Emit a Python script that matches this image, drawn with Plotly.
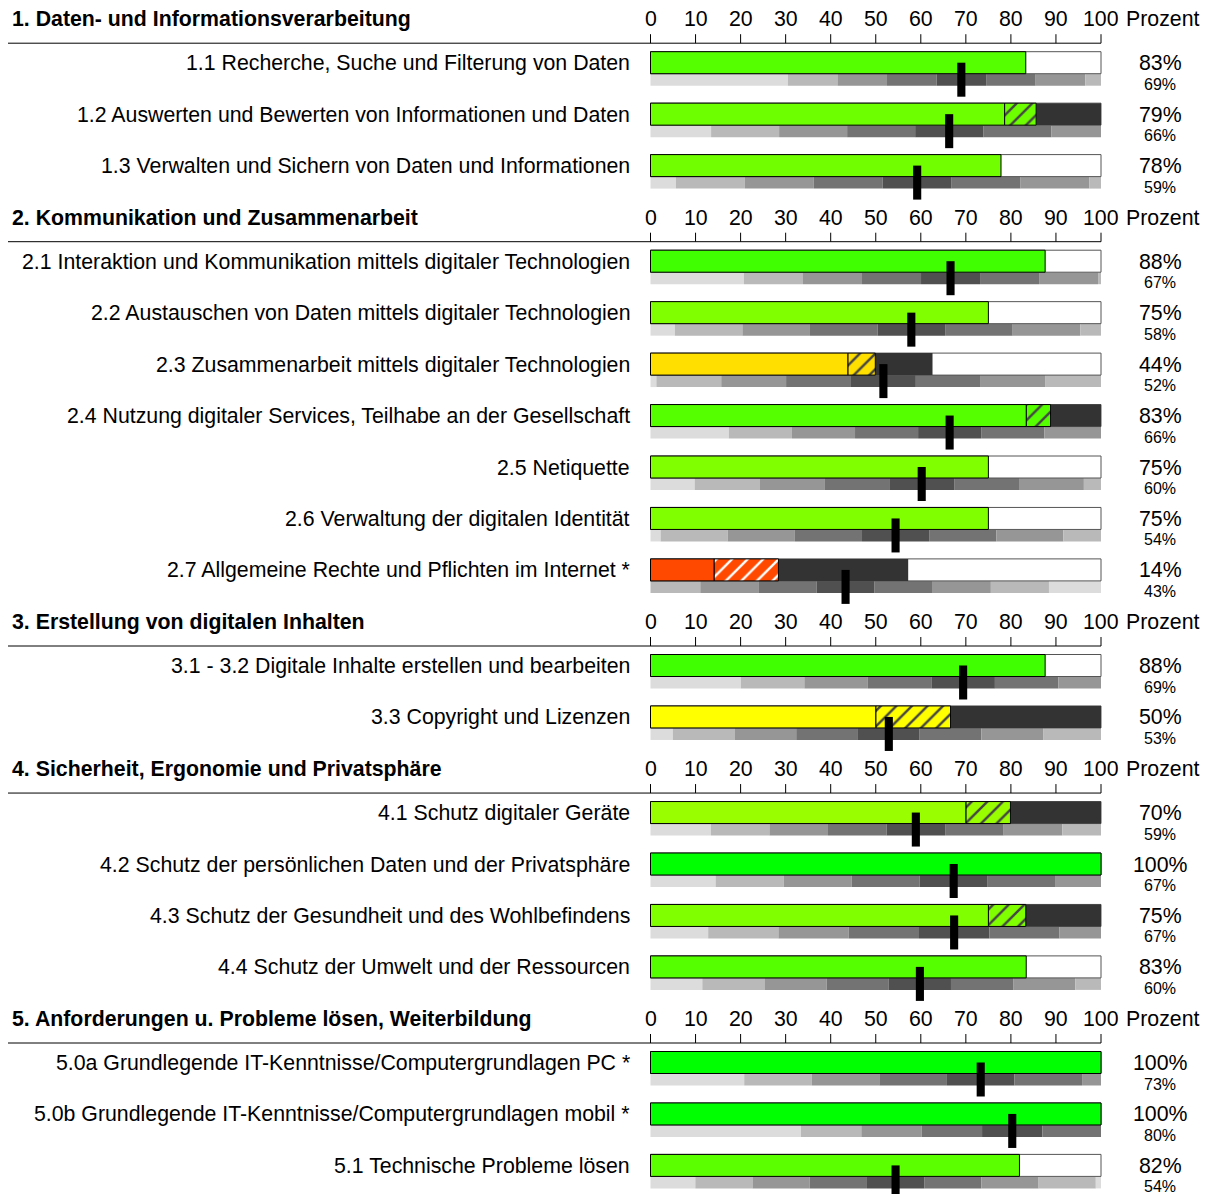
import plotly.graph_objects as go

# ---------------------------------------------------------------- data
section_titles = [
    "1. Daten- und Informationsverarbeitung",
    "2. Kommunikation und Zusammenarbeit",
    "3. Erstellung von digitalen Inhalten",
    "4. Sicherheit, Ergonomie und Privatsphäre",
    "5. Anforderungen u. Probleme lösen, Weiterbildung",
]

row_labels = [
    "1.1 Recherche, Suche und Filterung von Daten",
    "1.2 Auswerten und Bewerten von Informationen und Daten",
    "1.3 Verwalten und Sichern von Daten und Informationen",
    "2.1 Interaktion und Kommunikation mittels digitaler Technologien",
    "2.2 Austauschen von Daten mittels digitaler Technologien",
    "2.3 Zusammenarbeit mittels digitaler Technologien",
    "2.4 Nutzung digitaler Services, Teilhabe an der Gesellschaft",
    "2.5 Netiquette",
    "2.6 Verwaltung der digitalen Identität",
    "2.7 Allgemeine Rechte und Pflichten im Internet *",
    "3.1 - 3.2 Digitale Inhalte erstellen und bearbeiten",
    "3.3 Copyright und Lizenzen",
    "4.1 Schutz digitaler Geräte",
    "4.2 Schutz der persönlichen Daten und der Privatsphäre",
    "4.3 Schutz der Gesundheit und des Wohlbefindens",
    "4.4 Schutz der Umwelt und der Ressourcen",
    "5.0a Grundlegende IT-Kenntnisse/Computergrundlagen PC *",
    "5.0b Grundlegende IT-Kenntnisse/Computergrundlagen mobil *",
    "5.1 Technische Probleme lösen",
]
row_section = [0, 0, 0, 1, 1, 1, 1, 1, 1, 1, 2, 2, 3, 3, 3, 3, 4, 4, 4]

# own result in percent
score = [83.3, 78.6, 77.8, 87.6, 75.0, 43.8, 83.4, 75.0, 75.0, 14.1,
         87.6, 50.0, 70.0, 100.0, 75.0, 83.4, 100.0, 100.0, 81.9]
# end of the hatched (uncertain) part and of the dark (not reached) part
hatch_end = [None, 85.6, None, None, None, 49.9, 88.8, None, None, 28.4,
             None, 66.6, 79.9, None, 83.3, None, None, None, None]
dark_end = [None, 100.0, None, None, None, 62.6, 100.0, None, None, 57.2,
            None, 100.0, 100.0, None, 100.0, None, None, None, None]
# comparison group: mean and band width of the grey distribution strip
ref_mean = [69.0, 66.3, 59.2, 66.6, 57.9, 51.7, 66.4, 60.2, 54.4, 43.3,
            69.4, 52.9, 58.9, 67.3, 67.4, 59.8, 73.3, 80.3, 54.4]
ref_band = [11.0, 15.1, 15.3, 13.1, 15.0, 14.4, 14.0, 14.4, 14.9, 12.9,
            14.1, 13.7, 13.0, 15.1, 15.6, 13.8, 15.0, 13.4, 12.7]

ticks = [0, 10, 20, 30, 40, 50, 60, 70, 80, 90, 100]
band_greys = ["#505050", "#737373", "#969696", "#B9B9B9", "#DCDCDC"]

# ---------------------------------------------------------------- geometry
W, H = 1206, 1194
X0_PX, PX_PER_UNIT = 650.5, 4.505


def px_to_x(px):
    return (px - X0_PX) / PX_PER_UNIT


FIRST_ROW_Y, ROW_STEP, SECTION_STEP = 62.7, 51.45, 95.6

row_y = []
header_y = []
line_y = []
y = FIRST_ROW_Y
for i, sec in enumerate(row_section):
    if i > 0:
        y += SECTION_STEP if sec != row_section[i - 1] else ROW_STEP
    if i == 0 or sec != row_section[i - 1]:
        header_y.append(y - 43.5)
        line_y.append(y - 19.5)
    row_y.append(y)


def score_color(v):
    if v >= 50:
        r, g = round(255 * (100 - v) / 50), 255
    else:
        r, g = 255, round(255 * v / 50)
    return f"rgb({r},{g},0)"


colors = [score_color(v) for v in score]
FONT = "Liberation Sans, Arial, sans-serif"
BIG, SMALL = 21.3, 16

fig = go.Figure()

# grey distribution strip under each bar
sy, sb, sx, sc = [], [], [], []
for yc, m, w in zip(row_y, ref_mean, ref_band):
    for k in range(-4, 5):
        lo = m + (k - 0.5) * w if k > -4 else 0.0
        hi = m + (k + 0.5) * w if k < 4 else 100.0
        if k == -4:
            hi = m - 3.5 * w
        if k == 4:
            lo = m + 3.5 * w
        lo, hi = max(lo, 0.0), min(hi, 100.0)
        if hi <= lo:
            continue
        sy.append(yc + 17)
        sb.append(lo)
        sx.append(hi - lo)
        sc.append(band_greys[min(abs(k), 4)])
fig.add_trace(go.Bar(orientation="h", y=sy, base=sb, x=sx, width=12,
                     marker=dict(color=sc, line=dict(width=0)),
                     hoverinfo="skip"))

# empty 0..100 frame
fig.add_trace(go.Bar(orientation="h", y=row_y, base=[0] * len(row_y),
                     x=[100] * len(row_y), width=22,
                     marker=dict(color="white", line=dict(color="#555555", width=1)),
                     hoverinfo="skip"))

# dark part
dy, db, dx = [], [], []
for yc, h, d in zip(row_y, hatch_end, dark_end):
    if d is not None:
        dy.append(yc)
        db.append(h)
        dx.append(d - h)
fig.add_trace(go.Bar(orientation="h", y=dy, base=db, x=dx, width=22,
                     marker=dict(color="#333333", line=dict(width=0)),
                     hoverinfo="skip"))

# hatched part
hy, hb, hx, hc = [], [], [], []
for yc, v, h, c in zip(row_y, score, hatch_end, colors):
    if h is not None:
        hy.append(yc)
        hb.append(v)
        hx.append(h - v)
        hc.append(c)
fig.add_trace(go.Bar(orientation="h", y=hy, base=hb, x=hx, width=22,
                     marker=dict(color=hc, line=dict(color="black", width=1),
                                 pattern=dict(shape="/", fgcolor=["black"] * len(hy),
                                              fgopacity=1, size=11, solidity=0.22,
                                              fillmode="overlay")),
                     hoverinfo="skip"))

# score bars
fig.add_trace(go.Bar(orientation="h", y=row_y, base=[0] * len(row_y), x=score,
                     width=22,
                     marker=dict(color=colors, line=dict(color="black", width=1)),
                     hoverinfo="skip"))

# comparison marker
fig.add_trace(go.Bar(orientation="h", y=[v + 17 for v in row_y],
                     base=[m - 0.9 for m in ref_mean], x=[1.8] * len(row_y),
                     width=34, marker=dict(color="black", line=dict(width=0)),
                     hoverinfo="skip"))

# section axes: rule line and tick marks
lx, ly = [], []
for yl in line_y:
    lx += [px_to_x(8), 100, None]
    ly += [yl, yl, None]
    for t in ticks:
        lx += [t, t, None]
        ly += [yl, yl - 9, None]
fig.add_trace(go.Scatter(x=lx, y=ly, mode="lines",
                         line=dict(color="black", width=1), hoverinfo="skip"))

ann = []
for title, yh in zip(section_titles, header_y):
    ann.append(dict(x=px_to_x(10), y=yh, text=f"<b>{title}</b>", xanchor="left",
                    font=dict(size=BIG)))
    for t in ticks:
        ann.append(dict(x=t, y=yh, text=str(t), xanchor="center",
                        font=dict(size=BIG)))
    ann.append(dict(x=px_to_x(1124), y=yh, text="Prozent", xanchor="left",
                    font=dict(size=BIG)))
for lab, yc, v, m in zip(row_labels, row_y, score, ref_mean):
    ann.append(dict(x=px_to_x(632), y=yc + 0.5, text=lab, xanchor="right",
                    font=dict(size=BIG)))
    ann.append(dict(x=px_to_x(1160), y=yc + 0.5, text=f"{v:.0f}%", xanchor="center",
                    font=dict(size=BIG)))
    ann.append(dict(x=px_to_x(1160), y=yc + 21.5, text=f"{m:.0f}%", xanchor="center",
                    font=dict(size=SMALL)))
for a in ann:
    a.update(xref="x", yref="y", yanchor="middle", showarrow=False)
    a["font"].update(family=FONT, color="black")

fig.update_layout(
    width=W, height=H, margin=dict(l=0, r=0, t=0, b=0),
    paper_bgcolor="white", plot_bgcolor="white",
    barmode="overlay", showlegend=False,
    xaxis=dict(range=[px_to_x(0), px_to_x(W)], visible=False, fixedrange=True),
    yaxis=dict(range=[H, 0], visible=False, fixedrange=True),
    annotations=ann,
    font=dict(family=FONT),
)

fig.write_html("out.html")
